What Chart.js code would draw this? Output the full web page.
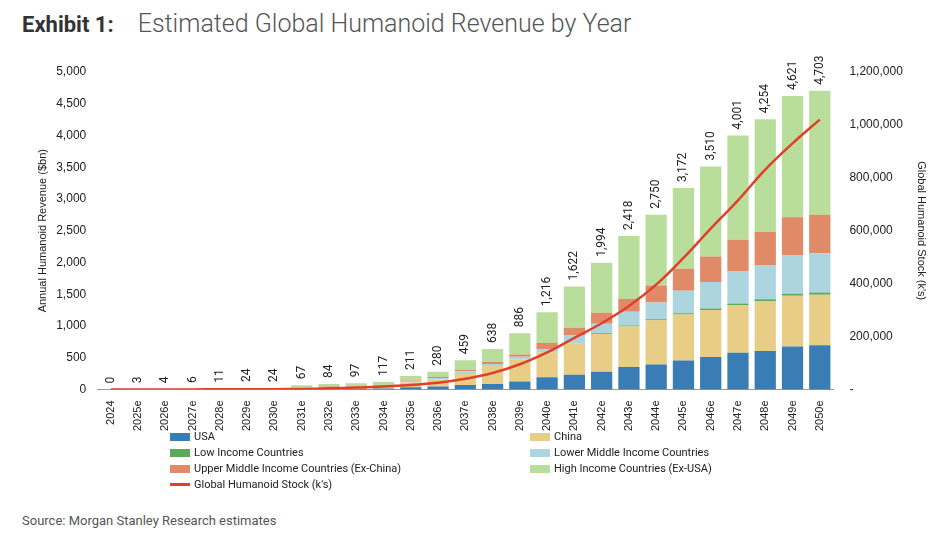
<!DOCTYPE html>
<html><head><meta charset="utf-8">
<script src="https://cdn.jsdelivr.net/npm/chart.js@4"></script>
<style>
body{margin:0;background:#fff;font-family:Roboto,"Noto Sans",sans-serif;width:936px;height:533px;position:relative;overflow:hidden}
.title{position:absolute;left:22px;top:9px;font-size:22px;color:#444}
.title b{color:#333;font-weight:700;margin-right:24px}
.title span{font-weight:300;color:#555;font-size:25px}
#wrap{position:absolute;left:0;top:52px;width:936px;height:382px}
.legend{position:absolute;left:170px;top:430px;font-size:11px;color:#222;display:grid;grid-template-columns:360px 260px;row-gap:3px}
.legend div{display:flex;align-items:center}
.sw{width:20px;height:8px;margin-right:4px;display:inline-block}
.ln{width:20px;height:3px;margin-right:4px;background:#e0402a;display:inline-block}
.src{position:absolute;left:22px;top:513px;font-size:13px;color:#555}
</style></head><body>
<div class="title"><b>Exhibit 1:</b><span>Estimated Global Humanoid Revenue by Year</span></div>
<div id="wrap"><canvas id="c"></canvas></div>
<div class="legend">
<div><span class="sw" style="background:#3a7db5"></span>USA</div>
<div><span class="sw" style="background:#e8cd87"></span>China</div>
<div><span class="sw" style="background:#5cab5c"></span>Low Income Countries</div>
<div><span class="sw" style="background:#acd5e0"></span>Lower Middle Income Countries</div>
<div><span class="sw" style="background:#e08a68"></span>Upper Middle Income Countries (Ex-China)</div>
<div><span class="sw" style="background:#b9dd9a"></span>High Income Countries (Ex-USA)</div>
<div><span class="ln"></span>Global Humanoid Stock (k's)</div>
</div>
<div class="src">Source: Morgan Stanley Research estimates</div>
<script>
const years = ["2024","2025e","2026e","2027e","2028e","2029e","2030e","2031e","2032e","2033e","2034e","2035e","2036e","2037e","2038e","2039e","2040e","2041e","2042e","2043e","2044e","2045e","2046e","2047e","2048e","2049e","2050e"];
const usa = [0,0.5,0.5,1,1.5,3,3,8,10,12,15,35,45,70,85,125,190,230,279,354,391,455,510,579,606,675,696];
const china = [0,1,1.5,2,4,9,9,20,25,28,35,75,115,187,280,345,390,493,594,638,697,724,738,751,788,799,794];
const lowIncome = [0,0,0,0,0,0,0,0,0,0,0,0,0,1,2,3,5,6,11,16,16,21,27,25,26,32,37];
const lowerMiddle = [0,0.3,0.5,0.5,1,2,2,2,3,5,5,15,20,27,33,42,45,129,150,214,267,354,418,510,530,605,616];
const upperMiddle = [0,0.5,0.5,1,1.5,3,3,5,7,7,10,15,20,25,30,35,100,112,172,204,264,348,402,493,531,601,607];
const highIncome = [0,0.7,1,1.5,3,7,7,32,39,45,52,71,80,149,208,336,486,652,788,992,1115,1270,1415,1643,1773,1909,1953];
const totals = [0,3,4,6,11,24,24,67,84,97,117,211,280,459,638,886,1216,1622,1994,2418,2750,3172,3510,4001,4254,4621,4703];
const stock = [0,0,0,100,300,600,900,2000,4000,7000,11000,17000,25000,40000,62000,95000,140000,195000,250000,315000,396000,497000,608000,715000,831000,930000,1020000];

const totalLabels = {
  id: "totalLabels",
  afterDatasetsDraw(chart) {
    const ctx = chart.ctx, x = chart.scales.x, y = chart.scales.y;
    ctx.save();
    ctx.font = "12px Roboto, sans-serif";
    ctx.fillStyle = "#222";
    ctx.textAlign = "left";
    ctx.textBaseline = "middle";
    totals.forEach((t, i) => {
      ctx.save();
      ctx.translate(x.getPixelForValue(i), y.getPixelForValue(t) - 6);
      ctx.rotate(-Math.PI / 2);
      ctx.fillText(t.toLocaleString("en-US"), 0, 0);
      ctx.restore();
    });
    ctx.restore();
  }
};

const bar = (label, data, color) => ({ type: "bar", label, data, backgroundColor: color, stack: "s", yAxisID: "y", barPercentage: 0.78, categoryPercentage: 1, order: 2 });

new Chart(document.getElementById("c"), {
  data: {
    labels: years,
    datasets: [
      { type: "line", label: "Global Humanoid Stock (k's)", data: stock, yAxisID: "y2", borderColor: "#e0402a", borderWidth: 2.5, pointRadius: 0, tension: 0.4, order: 1 },
      bar("USA", usa, "#3a7db5"),
      bar("China", china, "#e8cd87"),
      bar("Low Income Countries", lowIncome, "#5cab5c"),
      bar("Lower Middle Income Countries", lowerMiddle, "#acd5e0"),
      bar("Upper Middle Income Countries (Ex-China)", upperMiddle, "#e08a68"),
      bar("High Income Countries (Ex-USA)", highIncome, "#b9dd9a")
    ]
  },
  options: {
    responsive: true, maintainAspectRatio: false, animation: false,
    layout: { padding: { left: 32, right: 4, top: 20 } },
    plugins: { legend: { display: false }, tooltip: { enabled: false } },
    scales: {
      x: { stacked: true, grid: { display: false }, border: { color: "#999" },
        ticks: { color: "#222", font: { size: 11 }, minRotation: 90, maxRotation: 90, autoSkip: false } },
      y: { stacked: true, min: 0, max: 5000, grid: { display: false }, border: { display: false },
        title: { display: true, text: "Annual Humanoid Revenue ($bn)", color: "#222", font: { size: 11 } },
        ticks: { stepSize: 500, color: "#222", font: { size: 12 }, callback: v => v.toLocaleString("en-US") } },
      y2: { position: "right", min: 0, max: 1200000, grid: { display: false }, border: { display: false },
        title: { display: true, text: "Global Humanoid Stock (k's)", color: "#222", font: { size: 11 } },
        ticks: { stepSize: 200000, color: "#222", font: { size: 12 }, padding: 8, callback: v => v === 0 ? "-" : v.toLocaleString("en-US") } }
    }
  },
  plugins: [totalLabels]
});
</script>
</body></html>
